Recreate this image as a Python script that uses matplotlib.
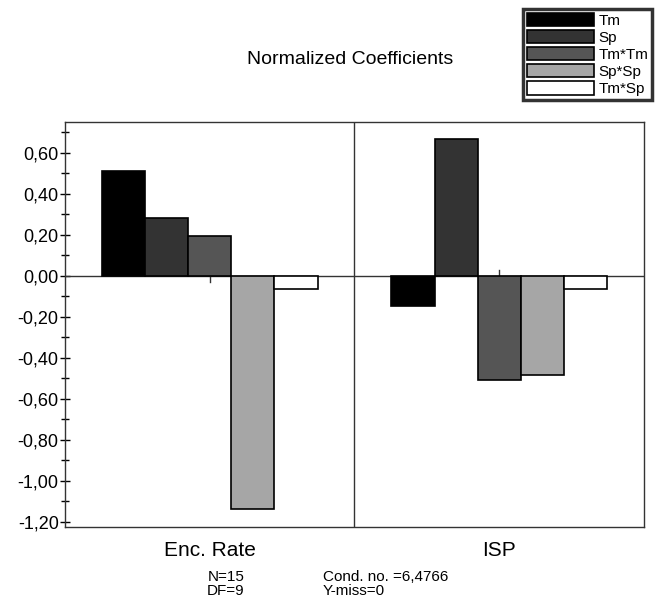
import matplotlib
matplotlib.use("Agg")
import matplotlib.pyplot as plt
import numpy as np
from matplotlib.ticker import MultipleLocator, FuncFormatter
from matplotlib.patches import Patch

plt.rcParams['font.family'] = ['Liberation Sans', 'DejaVu Sans']

categories = ["Enc. Rate", "ISP"]
terms = ["Tm", "Sp", "Tm*Tm", "Sp*Sp", "Tm*Sp"]
values = {
    "Tm":    [0.512, -0.145],
    "Sp":    [0.281, 0.667],
    "Tm*Tm": [0.195, -0.510],
    "Sp*Sp": [-1.138, -0.486],
    "Tm*Sp": [-0.063, -0.063],
}
colors = ["#000000", "#333333", "#555555", "#a6a6a6", "#ffffff"]
footer_left = ["N=15", "DF=9"]
footer_right = ["Cond. no. =6,4766", "Y-miss=0"]

fig = plt.figure(figsize=(6.55, 6.0), dpi=100)
ax = fig.add_axes([65/655, 1-527/600, (644-65)/655, (527-122)/600])

x = np.arange(len(categories))
bw = 0.149
n = len(terms)
for i, (t, c) in enumerate(zip(terms, colors)):
    offs = (i - (n-1)/2) * bw
    ax.bar(x + offs, values[t], width=bw, color=c, edgecolor="black", linewidth=1.2, zorder=3)

ax.set_xlim(-0.5, 1.5)
ax.set_ylim(-1.225, 0.75)
ax.axhline(0, color="#333333", linewidth=1.0, zorder=2)
ax.axvline(0.5, color="#333333", linewidth=1.0, zorder=2)

ax.yaxis.set_major_locator(MultipleLocator(0.2))
ax.yaxis.set_minor_locator(MultipleLocator(0.1))
ax.yaxis.set_major_formatter(FuncFormatter(lambda v, p: f"{v:.2f}".replace(".", ",").replace("-0,00", "0,00")))
ax.tick_params(axis="y", which="both", direction="inout", length=7, width=1.0, labelsize=13, pad=1)
ax.tick_params(axis="y", which="minor", length=6)

ax.set_xticks(x)
ax.set_xticklabels(categories, fontsize=15)
ax.tick_params(axis="x", length=0, pad=10)

for s in ax.spines.values():
    s.set_color("#333333")
    s.set_linewidth(1.0)

# small marks at zero line at group centers
ax.plot([0, 0], [0, -0.03], color="#333333", linewidth=1.0, zorder=2)
ax.plot([1, 1], [0, 0.03], color="#333333", linewidth=1.0, zorder=2)

fig.text(350/655, 1-60/600, "Normalized Coefficients", ha="center", va="center", fontsize=14)

handles = [Patch(facecolor=c, edgecolor="black", linewidth=1.2) for c in colors]
leg = fig.legend(handles, terms, loc="upper right", bbox_to_anchor=(652/655, 1-9/600),
                 fontsize=11, handlelength=4.4, handleheight=0.95, handletextpad=0.25,
                 labelspacing=0.15, borderpad=0.25, borderaxespad=0, fancybox=False,
                 frameon=True)
leg.get_frame().set_edgecolor("black")
leg.get_frame().set_linewidth(2.5)

fig.text(226/655, 1-577/600, footer_left[0], ha="center", va="center", fontsize=11)
fig.text(226/655, 1-591/600, footer_left[1], ha="center", va="center", fontsize=11)
fig.text(323/655, 1-577/600, footer_right[0], ha="left", va="center", fontsize=11)
fig.text(323/655, 1-591/600, footer_right[1], ha="left", va="center", fontsize=11)

fig.savefig("out.png", dpi=100)
